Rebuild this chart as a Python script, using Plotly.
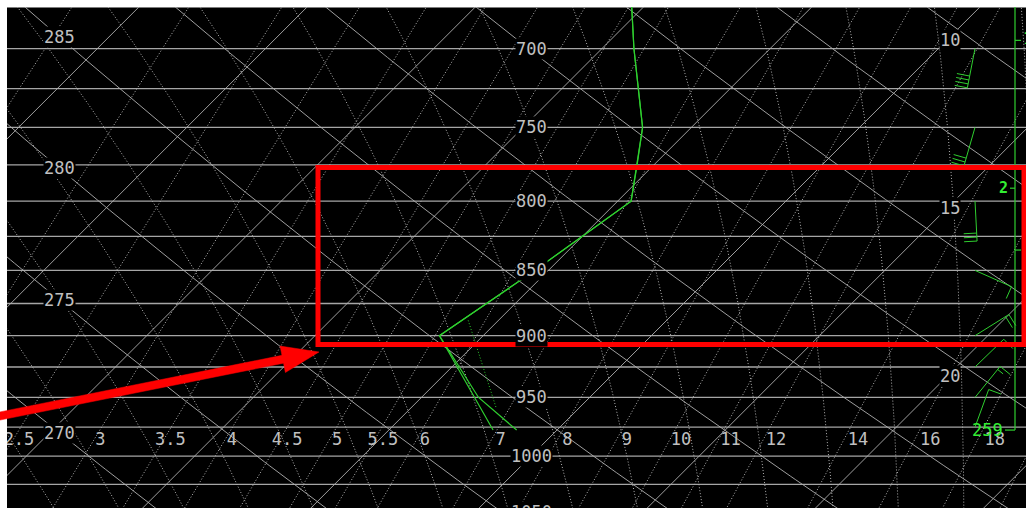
import numpy as np
import plotly.graph_objects as go

# ---------------- values ----------------
# sounding (hPa, degC)
temp_p = [977.5, 950, 900, 850, 800, 775, 750, 700, 675]
temp_c = [8.8, 6.7, 3.7, 4.6, 5.4, 4.5, 3.55, 0.95, -0.35]
dewp_p = [977.5, 900, 850, 800, 775, 750, 700, 675]
dewp_c = [8.1, 3.7, 4.6, 5.4, 4.5, 3.55, 0.95, -0.35]
parcel_p = [958, 888]
parcel_c = [7.5, 4.1]

# winds (hPa, deg, kt)
wind_p = [700, 750, 800, 850, 900, 925, 950, 975]
wind_dir = [191, 196, 177, 114, 58, 46, 39, 20]
wind_kt = [40, 30, 30, 10, 20, 15, 15, 10]

# height scale
sfc_p = 977.5
sfc_height = "259"
km_tick_p = [791]
km_tick_lbl = ["2"]
kft_tick_p = [695, 835]
kft_tick_lbl = ["10", "5"]

# background lines
isobars = list(range(675, 1075, 25))
isobar_labels = [700, 750, 800, 850, 900, 950, 1000, 1050]
isotherms = list(range(-60, 50, 5))
isotherm_labels = [10, 15, 20]
dry_adiabats = list(range(240, 345, 5))
dry_adiabat_labels = [270, 275, 280, 285]
mixing_ratios = [1, 1.5, 2, 2.5, 3, 3.5, 4, 4.5, 5, 5.5, 6, 7, 8, 9, 10, 11, 12, 14, 16, 18, 20]
mixing_labels = [2.5, 3, 3.5, 4, 4.5, 5, 5.5, 6, 7, 8, 9, 10, 11, 12, 14, 16, 18]
moist_adiabats_k = list(range(262, 312, 2))   # wet-bulb potential temperature, K

# ---------------- diagram geometry ----------------
W, H = 1026, 508
ML, MT = 7, 7
PW, PH = W - ML, H - MT
P_TOP, P_BOT = 675.0, 1046.5
X_MIN, X_MAX = -18.92, 11.37
SKEW = 33.95                       # degC per unit ln(p)
PX_C = PW / (X_MAX - X_MIN)
PX_LNP = PH / np.log(P_BOT / P_TOP)

Rd, Cp, Lv, EPS = 287.04, 1005.7, 2.501e6, 0.622
KAP = Rd / Cp

GRID = "#a6a6a6"
DIAG = "#b0b0b0"
DOTC = "#b4b4b4"
LBL = "#c0c0c0"
GREEN = "#2fcf2f"
GREEN_T = "#33ee33"
FONT = "DejaVu Sans Mono"


def skx(t, p):
    return np.asarray(t) - SKEW * np.log(np.asarray(p) / P_TOP)


def es_hpa(t):
    return 6.112 * np.exp(17.67 * t / (t + 243.5))


def t_from_w(w, p):
    e = w * p / (622.0 + w)
    l = np.log(e / 6.112)
    return 243.5 * l / (17.67 - l)


def dtdlnp(tk, p):
    e = es_hpa(tk - 273.15)
    rs = EPS * e / (p - e)
    return (Rd * tk + Lv * rs) / (Cp + Lv * Lv * rs * EPS / (Rd * tk * tk))


def moist(tw):
    out = {}
    for direction in (-1, 1):
        tk, lp = tw + 273.15, np.log(1000.0)
        h = 0.004 * direction
        pts = []
        while (direction < 0 and lp > np.log(P_TOP - 10)) or (direction > 0 and lp < np.log(P_BOT + 10)):
            p = np.exp(lp)
            k1 = dtdlnp(tk, p)
            k2 = dtdlnp(tk + 0.5 * h * k1, np.exp(lp + 0.5 * h))
            k3 = dtdlnp(tk + 0.5 * h * k2, np.exp(lp + 0.5 * h))
            k4 = dtdlnp(tk + h * k3, np.exp(lp + h))
            tk += h * (k1 + 2 * k2 + 2 * k3 + k4) / 6
            lp += h
            pts.append((np.exp(lp), tk - 273.15))
        for p, t in pts:
            out[p] = t
    out[1000.0] = tw
    ps = np.array(sorted(out))
    return ps, np.array([out[p] for p in ps])


def join(lines):
    xs, ys = [], []
    for x, y in lines:
        xs += list(x) + [None]
        ys += list(y) + [None]
    return xs, ys


pgrid = np.geomspace(P_TOP - 10, P_BOT + 10, 150)
fig = go.Figure()


def add_lines(lines, color, width, dash="solid"):
    xs, ys = join(lines)
    fig.add_trace(go.Scatter(x=xs, y=ys, mode="lines", hoverinfo="skip",
                             line=dict(color=color, width=width, dash=dash)))


# isobars
add_lines([([X_MIN - 5, X_MAX + 5], [p, p]) for p in isobars], GRID, 1.3)
# isotherms
add_lines([(skx([t, t], [P_TOP - 10, P_BOT + 10]), [P_TOP - 10, P_BOT + 10]) for t in isotherms], DIAG, 0.9)
# dry adiabats
add_lines([(skx(th * (pgrid / 1000.0) ** KAP - 273.15, pgrid), pgrid) for th in dry_adiabats], DIAG, 0.9)
# mixing ratio lines
add_lines([(skx(t_from_w(w, pgrid), pgrid), pgrid) for w in mixing_ratios], DOTC, 1, "1px,2px")
# moist adiabats
ml = []
for twk in moist_adiabats_k:
    ps, ts = moist(twk - 273.15)
    ml.append((skx(ts, ps), ps))
add_lines(ml, DOTC, 1, "1px,2px")

# sounding
fig.add_trace(go.Scatter(x=skx(dewp_c, dewp_p), y=dewp_p, mode="lines", hoverinfo="skip",
                         line=dict(color=GREEN, width=1.2)))
fig.add_trace(go.Scatter(x=skx(temp_c, temp_p), y=temp_p, mode="lines", hoverinfo="skip",
                         line=dict(color=GREEN, width=1.2)))
fig.add_trace(go.Scatter(x=skx(parcel_c, parcel_p), y=parcel_p, mode="lines", hoverinfo="skip",
                         line=dict(color=GREEN, width=1, dash="1px,2px")))

# wind barbs
BARB_X = X_MAX - 51 / PX_C
STAFF, FULL, HALF, GAP = 40.0, 13.0, 7.0, 4.0


def off(x, p, dx, dy_up):
    return x + dx / PX_C, p * np.exp(-dy_up / PX_LNP)


barbs = []
for p, d, s in zip(wind_p, wind_dir, wind_kt):
    r = np.radians(d)
    sx, sy = np.sin(r), np.cos(r)
    fx, fy = np.cos(r), -np.sin(r)
    ex, ep = off(BARB_X, p, STAFF * sx, STAFF * sy)
    barbs.append(([BARB_X, ex], [p, ep]))
    n_full, half = int(s // 10), (s % 10) >= 5
    pos = STAFF
    for i in range(n_full):
        bx, bp = off(BARB_X, p, pos * sx, pos * sy)
        tx, tp = off(bx, bp, FULL * fx, FULL * fy)
        barbs.append(([bx, tx], [bp, tp]))
        pos -= GAP
    if half:
        bx, bp = off(BARB_X, p, pos * sx, pos * sy)
        tx, tp = off(bx, bp, HALF * fx, HALF * fy)
        barbs.append(([bx, tx], [bp, tp]))
add_lines(barbs, GREEN, 1)

# height scale
HX = X_MAX - 11 / PX_C
hs = [([HX, HX], [P_TOP - 10, sfc_p]), ([HX, HX - 10 / PX_C], [sfc_p, sfc_p])]
for p in km_tick_p:
    hs.append(([HX, HX - 5 / PX_C], [p, p]))
for p in kft_tick_p:
    hs.append(([HX, HX + 6 / PX_C], [p, p]))
add_lines(hs, GREEN, 1.2)

# text traces (clipped to plot area)
mw_p = 987.0
fig.add_trace(go.Scatter(
    x=[float(skx(t_from_w(w, mw_p), mw_p)) + (5 + 0.72 * w) / PX_C for w in mixing_labels],
    y=[mw_p] * len(mixing_labels), mode="text", hoverinfo="skip",
    text=[("%g" % w) for w in mixing_labels], textposition="middle center",
    textfont=dict(family=FONT, size=17, color=LBL)))
fig.add_trace(go.Scatter(
    x=[HX + 8 / PX_C for _ in kft_tick_p], y=kft_tick_p, mode="text", hoverinfo="skip",
    text=kft_tick_lbl, textposition="middle right",
    textfont=dict(family=FONT, size=15, color=GREEN_T)))

ann = []
# isobar labels
XI = X_MIN + (531 - ML) / PX_C
lt, lb = np.log10(P_TOP), np.log10(P_BOT)
for p in isobar_labels:
    ann.append(dict(x=XI, y=(lb - np.log10(p)) / (lb - lt), xref="x", yref="paper",
                    xanchor="center", yanchor="middle",
                    text=str(p), showarrow=False, bgcolor="black", borderpad=0,
                    font=dict(family=FONT, size=17, color=LBL)))
# isotherm labels
XT = X_MIN + (950 - ML) / PX_C
for t in isotherm_labels:
    p = P_TOP * np.exp((t - XT) / SKEW)
    ann.append(dict(x=XT, y=np.log10(p), xref="x", yref="y", yshift=-3, text=str(t), showarrow=False,
                    xanchor="center", yanchor="middle",
                    bgcolor="black", borderpad=0, font=dict(family=FONT, size=17, color=LBL)))
# dry adiabat labels (placed where each adiabat crosses a fixed column)
XD = X_MIN + (59 - ML) / PX_C
for th in dry_adiabat_labels:
    lo, hi = 600.0, 1100.0
    for _ in range(60):
        mid = 0.5 * (lo + hi)
        v = skx(th * (mid / 1000.0) ** KAP - 273.15, mid) - XD
        if v > 0:
            hi = mid
        else:
            lo = mid
    ann.append(dict(x=XD, y=np.log10(0.5 * (lo + hi)), xref="x", yref="y", text=str(th), showarrow=False,
                    xanchor="center", yanchor="middle",
                    bgcolor="black", borderpad=0, font=dict(family=FONT, size=17, color=LBL)))
# height-scale labels
ann.append(dict(x=HX - 11 / PX_C, y=np.log10(sfc_p), xref="x", yref="y", xanchor="right", yanchor="middle",
                text=sfc_height, showarrow=False, borderpad=0,
                font=dict(family=FONT, size=17, color=GREEN_T)))
for p, t in zip(km_tick_p, km_tick_lbl):
    ann.append(dict(x=HX - 6 / PX_C, y=np.log10(p), xref="x", yref="y", xanchor="right", yanchor="middle",
                    text="<b>%s</b>" % t, showarrow=False, borderpad=0,
                    font=dict(family=FONT, size=15, color=GREEN_T)))


# red highlight box and arrow (screen annotation)
def ppx(x, y):
    return (x - ML) / PW, 1 - (y - MT) / PH


x0, y0 = ppx(318, 167.5)
x1, y1 = ppx(1024, 344.5)
shapes = [dict(type="rect", xref="paper", yref="paper", x0=x0, y0=y1, x1=x1, y1=y0,
               line=dict(color="#ff0000", width=5), layer="above")]
tip = np.array([319.0, 352.0])
tail = np.array([-12.0, 418.4])
u = (tip - tail) / np.linalg.norm(tip - tail)
n = np.array([-u[1], u[0]])
base = tip - 37 * u
pts = [tail + 4 * n, base + 4 * n, base + 13.5 * n, tip, base - 13.5 * n, base - 4 * n, tail - 4 * n]
path = "M " + " L ".join("%.5f,%.5f" % ppx(*q) for q in pts) + " Z"
shapes.append(dict(type="path", xref="paper", yref="paper", path=path, fillcolor="#ff0000",
                   line=dict(color="#ff0000", width=0.5), layer="above"))

fig.update_layout(
    width=W, height=H, margin=dict(l=ML, r=0, t=MT, b=0, pad=0),
    paper_bgcolor="white", plot_bgcolor="black", showlegend=False,
    xaxis=dict(range=[X_MIN, X_MAX], visible=False, fixedrange=True),
    yaxis=dict(type="log", range=[lb, lt], visible=False, fixedrange=True),
    annotations=ann, shapes=shapes,
)
fig.write_html("out.html", config={"displayModeBar": False},
               post_script="document.body.style.margin='0px';document.body.style.padding='0px';")
